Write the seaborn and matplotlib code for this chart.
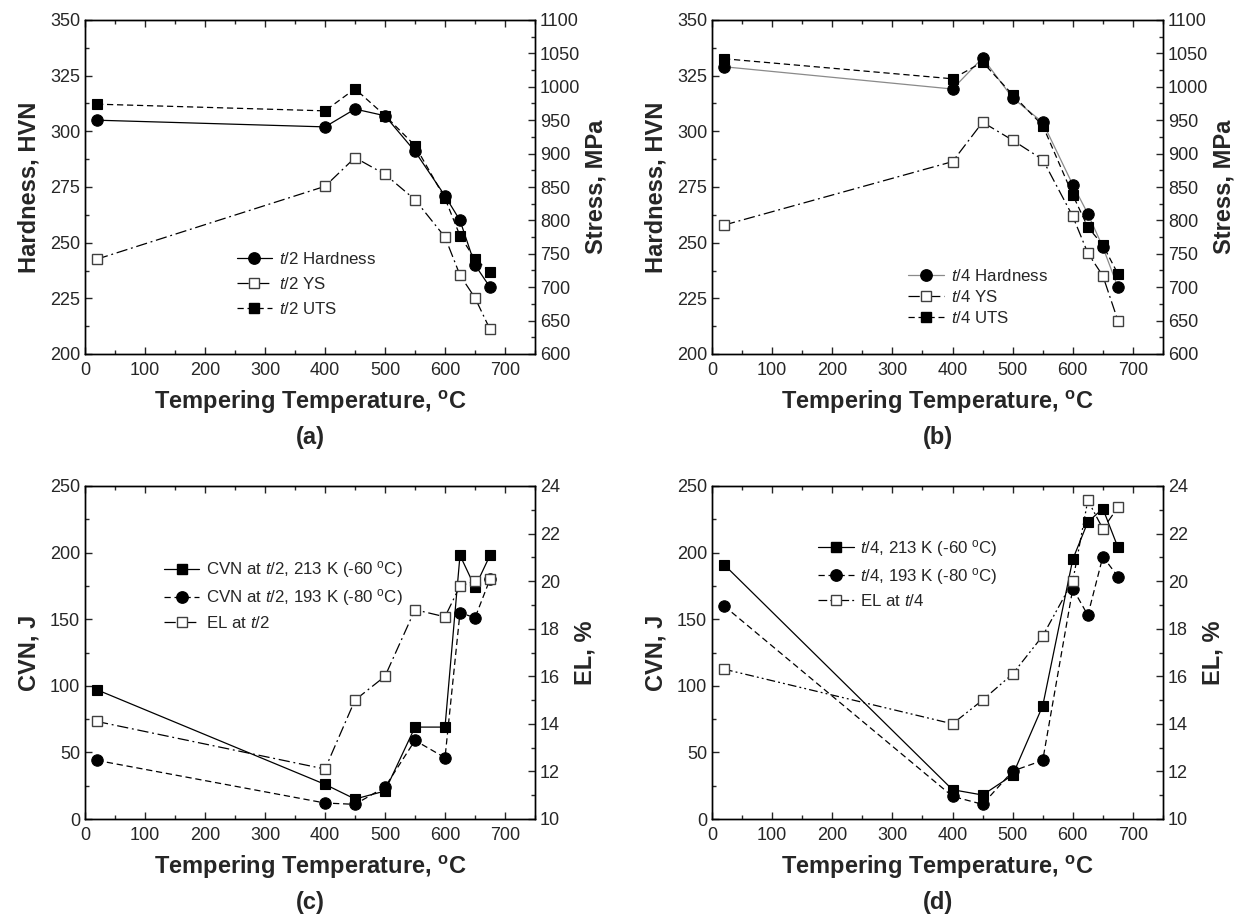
import matplotlib
matplotlib.use("Agg")
import matplotlib.pyplot as plt
import seaborn as sns
from matplotlib.ticker import MultipleLocator
from matplotlib.lines import Line2D

# ---------------- data ----------------
temp = [20, 400, 450, 500, 550, 600, 625, 650, 675]

# (a) t/2
a_hard = [305, 302, 310, 307, 291, 271, 260, 240, 230]
a_ys = [742, 851, 894, 869, 831, 775, 718, 684, 637]
a_uts = [974, 964, 997, 957, 912, 833, 777, 742, 723]

# (b) t/4
b_hard = [329, 319, 333, 315, 304, 276, 263, 248, 230]
b_ys = [793, 888, 947, 920, 891, 806, 751, 717, 650]
b_uts = [1042, 1012, 1037, 988, 942, 838, 790, 763, 720]

# (c) t/2 CVN and EL
c_cvn213 = [97, 26, 15, 21, 69, 69, 198, 174, 198]
c_cvn193 = [44, 12, 11, 24, 59, 46, 155, 151, 180]
c_el = [14.1, 12.1, 15.0, 16.0, 18.8, 18.5, 19.8, 20.0, 20.1]

# (d) t/4 CVN and EL
d_cvn213 = [191, 22, 18, 33, 85, 195, 223, 233, 204]
d_cvn193 = [160, 17, 11, 36, 44, 173, 153, 197, 182]
d_el = [16.3, 14.0, 15.0, 16.1, 17.7, 20.0, 23.4, 22.2, 23.1]

# ---------------- style ----------------
sns.set_style("ticks")
plt.rcParams["font.family"] = ["Liberation Sans", "DejaVu Sans"]
plt.rcParams["mathtext.fontset"] = "custom"
plt.rcParams["mathtext.rm"] = "Liberation Sans"
plt.rcParams["mathtext.it"] = "Liberation Sans:italic"
plt.rcParams["mathtext.bf"] = "Liberation Sans:bold"
plt.rcParams["axes.linewidth"] = 1.0

DASH = (0, (5, 3))
DASHDOT = (0, (9, 3, 1.5, 3))
DASHDOTDOT = (0, (7, 2.5, 1.5, 2.5, 1.5, 2.5))
LW = 0.9
MS_C = 8.2
MS_S = 7.4
EDGE_OPEN = "#404040"
LABEL_FS = 17
TICK_FS = 13
LEG_FS = 12.2

fig = plt.figure(figsize=(12.43, 9.19), dpi=100)
W, H = 1243, 919


def pos(l, r, t, b):
    return [l / W, 1 - b / H, (r - l) / W, (b - t) / H]


def style_axes(ax, ax2, xlab_letter):
    ax.set_xlim(0, 750)
    ax.xaxis.set_major_locator(MultipleLocator(100))
    ax.xaxis.set_minor_locator(MultipleLocator(50))
    for a in (ax, ax2):
        a.tick_params(which="both", direction="in", labelsize=TICK_FS)
        a.tick_params(which="major", length=5, width=1)
        a.tick_params(which="minor", length=3, width=1)
    ax.tick_params(axis="x", which="both", top=True, bottom=True)
    ax.tick_params(axis="y", which="both", left=True, right=False)
    ax2.tick_params(axis="y", which="both", left=False, right=True)
    ax.tick_params(axis="x", pad=6)
    for a in (ax, ax2):
        for s in a.spines.values():
            s.set_visible(True)
            s.set_color("black")
    ax.set_xlabel(r"Tempering Temperature, $^{\mathbf{o}}$C", fontsize=LABEL_FS,
                  fontweight="bold", labelpad=7)
    ax.text(0.5, -0.25, xlab_letter, transform=ax.transAxes, ha="center",
            va="center", fontsize=17, fontweight="bold")


def plot_series(ax, y, marker, ls, label, open_marker=False, lcolor="black",
                ms=None):
    kw = dict(marker=marker, linestyle=ls, color=lcolor, linewidth=LW,
              markersize=ms if ms else (MS_C if marker == "o" else MS_S),
              label=label, legend=False, sort=False)
    if open_marker:
        kw.update(markerfacecolor="white", markeredgecolor=EDGE_OPEN,
                  markeredgewidth=1.0)
    else:
        kw.update(markerfacecolor="black", markeredgecolor="black",
                  markeredgewidth=0.8)
    sns.lineplot(x=temp, y=y, ax=ax, **kw)
    return Line2D([], [], marker=marker, linestyle=ls, color=lcolor,
                  linewidth=LW, markersize=kw["markersize"],
                  markerfacecolor=kw["markerfacecolor"],
                  markeredgecolor=kw["markeredgecolor"])


def add_legend(ax, handles, labels, anchor, spacing):
    leg = ax.legend(handles, labels, loc="upper left", bbox_to_anchor=anchor,
                    frameon=False, fontsize=LEG_FS, handlelength=2.1,
                    handletextpad=0.4, labelspacing=spacing, borderaxespad=0,
                    numpoints=1)
    return leg


def ylabels(ax, ax2, left, right, rpad):
    ax.set_ylabel(left, fontsize=LABEL_FS, fontweight="bold", labelpad=7)
    ax2.set_ylabel(right, fontsize=LABEL_FS, fontweight="bold", labelpad=rpad)


# ---------------- (a) ----------------
ax = fig.add_axes(pos(85, 535, 20, 354))
ax2 = ax.twinx()
h1 = plot_series(ax, a_hard, "o", "-", "t/2 Hardness")
h2 = plot_series(ax2, a_ys, "s", DASHDOT, "t/2 YS", open_marker=True)
h3 = plot_series(ax2, a_uts, "s", DASH, "t/2 UTS")
ax.set_ylim(200, 350)
ax.yaxis.set_major_locator(MultipleLocator(25))
ax.yaxis.set_minor_locator(MultipleLocator(12.5))
ax2.set_ylim(600, 1100)
ax2.yaxis.set_major_locator(MultipleLocator(50))
ax2.yaxis.set_minor_locator(MultipleLocator(25))
ylabels(ax, ax2, "Hardness, HVN", "Stress, MPa", 3)
style_axes(ax, ax2, "(a)")
add_legend(ax2, [h1, h2, h3],
           [r"$\mathit{t}$/2 Hardness", r"$\mathit{t}$/2 YS", r"$\mathit{t}$/2 UTS"],
           (0.322, 0.33), 0.55)

# ---------------- (b) ----------------
ax = fig.add_axes(pos(712, 1163, 20, 354))
ax2 = ax.twinx()
h1 = plot_series(ax, b_hard, "o", "-", "t/4 Hardness", lcolor="#8a8a8a")
h1.set_markerfacecolor("black")
h1.set_markeredgecolor("black")
ax.lines[-1].set_markerfacecolor("black")
ax.lines[-1].set_markeredgecolor("black")
h2 = plot_series(ax2, b_ys, "s", DASHDOT, "t/4 YS", open_marker=True)
h3 = plot_series(ax2, b_uts, "s", DASH, "t/4 UTS")
ax.set_ylim(200, 350)
ax.yaxis.set_major_locator(MultipleLocator(25))
ax.yaxis.set_minor_locator(MultipleLocator(12.5))
ax2.set_ylim(600, 1100)
ax2.yaxis.set_major_locator(MultipleLocator(50))
ax2.yaxis.set_minor_locator(MultipleLocator(25))
ylabels(ax, ax2, "Hardness, HVN", "Stress, MPa", 3)
style_axes(ax, ax2, "(b)")
add_legend(ax2, [h1, h2, h3],
           [r"$\mathit{t}$/4 Hardness", r"$\mathit{t}$/4 YS", r"$\mathit{t}$/4 UTS"],
           (0.42, 0.277), 0.3)

# ---------------- (c) ----------------
ax = fig.add_axes(pos(85, 535, 486, 819))
ax2 = ax.twinx()
h1 = plot_series(ax, c_cvn213, "s", "-", "CVN 213")
h2 = plot_series(ax, c_cvn193, "o", DASH, "CVN 193")
h3 = plot_series(ax2, c_el, "s", DASHDOT, "EL", open_marker=True)
ax.set_ylim(0, 250)
ax.yaxis.set_major_locator(MultipleLocator(50))
ax.yaxis.set_minor_locator(MultipleLocator(25))
ax2.set_ylim(10, 24)
ax2.yaxis.set_major_locator(MultipleLocator(2))
ax2.yaxis.set_minor_locator(MultipleLocator(1))
ylabels(ax, ax2, "CVN, J", "EL, %", 10)
style_axes(ax, ax2, "(c)")
add_legend(ax2, [h1, h2, h3],
           [r"CVN at $\mathit{t}$/2, 213 K (-60 $^{\mathrm{o}}$C)",
            r"CVN at $\mathit{t}$/2, 193 K (-80 $^{\mathrm{o}}$C)",
            r"EL at $\mathit{t}$/2"],
           (0.16, 0.8), 0.4)

# ---------------- (d) ----------------
ax = fig.add_axes(pos(712, 1163, 486, 819))
ax2 = ax.twinx()
h1 = plot_series(ax, d_cvn213, "s", "-", "t/4 213")
h2 = plot_series(ax, d_cvn193, "o", DASH, "t/4 193")
h3 = plot_series(ax2, d_el, "s", DASHDOTDOT, "EL", open_marker=True)
ax.set_ylim(0, 250)
ax.yaxis.set_major_locator(MultipleLocator(50))
ax.yaxis.set_minor_locator(MultipleLocator(25))
ax2.set_ylim(10, 24)
ax2.yaxis.set_major_locator(MultipleLocator(2))
ax2.yaxis.set_minor_locator(MultipleLocator(1))
ylabels(ax, ax2, "CVN, J", "EL, %", 10)
style_axes(ax, ax2, "(d)")
add_legend(ax2, [h1, h2, h3],
           [r"$\mathit{t}$/4, 213 K (-60 $^{\mathrm{o}}$C)",
            r"$\mathit{t}$/4, 193 K (-80 $^{\mathrm{o}}$C)",
            r"EL at $\mathit{t}$/4"],
           (0.22, 0.865), 0.4)

fig.savefig("out.png", dpi=100)
